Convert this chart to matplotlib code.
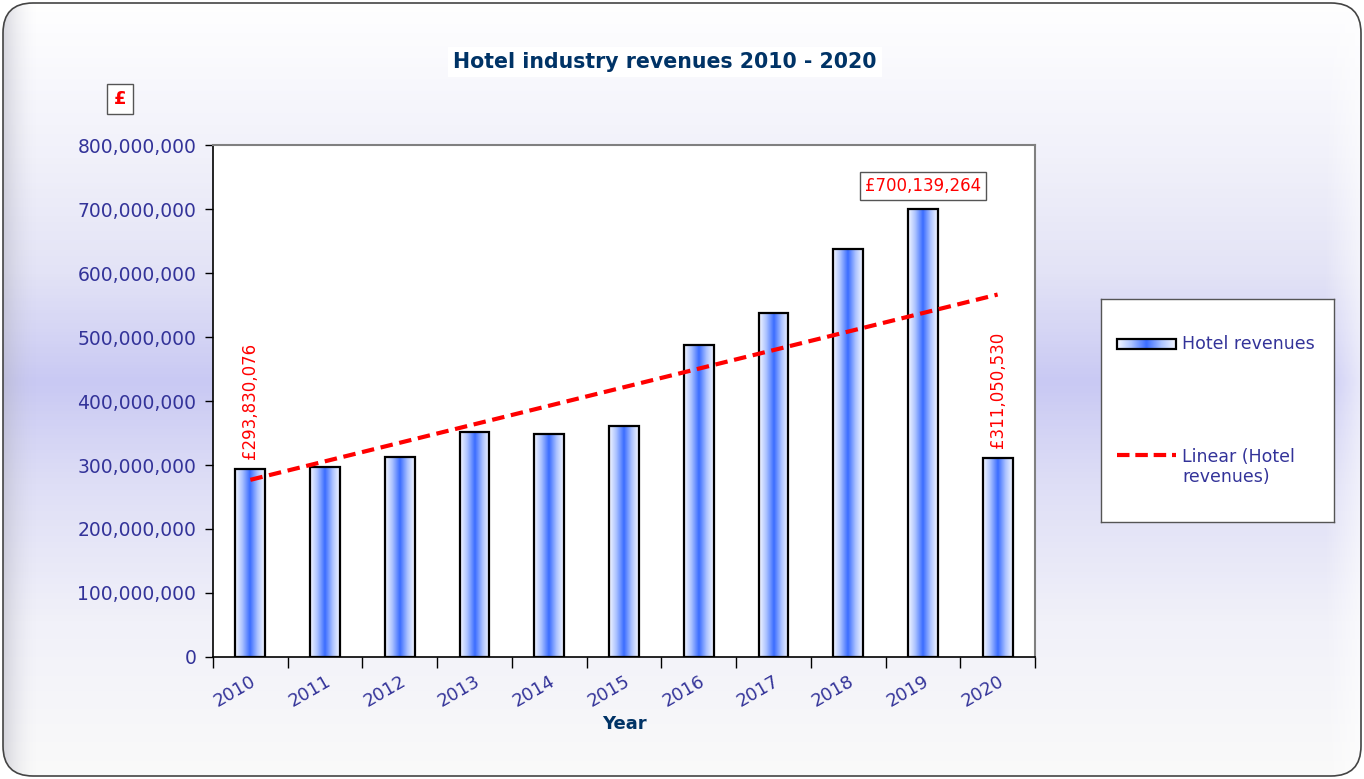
import numpy as np
import matplotlib
matplotlib.use("Agg")
import matplotlib.pyplot as plt
from matplotlib.colors import LinearSegmentedColormap
from matplotlib.patches import FancyBboxPatch, Rectangle
from matplotlib.ticker import FuncFormatter

# data
years = ["2010", "2011", "2012", "2013", "2014", "2015", "2016", "2017", "2018", "2019", "2020"]
revenues = [293830076, 297000000, 312500000, 351600000, 348000000, 361000000,
            487500000, 537500000, 637500000, 700139264, 311050530]

NAVY = "#003366"
TICKBLUE = "#333399"
RED = "#ff0000"

W, H = 1364, 779
fig = plt.figure(figsize=(W / 100, H / 100), dpi=100)
fig.patch.set_facecolor("white")

# background panel with rounded corners and lavender gradient
bg = fig.add_axes([0, 0, 1, 1])
bg.set_xlim(0, W)
bg.set_ylim(H, 0)
bg.axis("off")
stops = [(0.0, "#ffffff"), (0.2, "#f1f1fa"), (0.35, "#e3e3f6"), (0.49, "#c9c9f3"),
         (0.62, "#dedef6"), (0.8, "#f1f1f9"), (1.0, "#fafafa")]
bgcmap = LinearSegmentedColormap.from_list("bg", stops)
grad = np.linspace(0, 1, 256).reshape(-1, 1) * np.ones((1, 4))
img = bg.imshow(grad, cmap=bgcmap, extent=[0, W, H, 0], aspect="auto", zorder=0)
panel = FancyBboxPatch((3, 3), W - 6, H - 6, boxstyle="round,pad=0,rounding_size=30",
                       facecolor="none", edgecolor="#444444", lw=1.2, zorder=3)
bg.add_patch(panel)
img.set_clip_path(panel)
# soft grey shading along the left edge, white sheen on the right
shade = np.linspace(1, 0, 64).reshape(1, -1) ** 2
sh = bg.imshow(shade, cmap=LinearSegmentedColormap.from_list("sh", [(0.7, 0.7, 0.75, 0), (0.7, 0.7, 0.75, 1)]),
               extent=[3, 40, H, 0], aspect="auto", zorder=1, alpha=0.5)
sh.set_clip_path(panel)
sheen = np.linspace(0, 1, 64).reshape(1, -1)
sr = bg.imshow(sheen, cmap=LinearSegmentedColormap.from_list("sr", [(1, 1, 1, 0), (1, 1, 1, 1)]),
               extent=[W - 40, W - 3, H, 0], aspect="auto", zorder=1, alpha=0.6)
sr.set_clip_path(panel)

# main plot
ax = fig.add_axes([213 / W, 1 - 657 / H, (1035 - 213) / W, (657 - 145) / H])
ax.set_facecolor("white")
x = np.arange(len(years))
bars = ax.bar(x, revenues, width=0.4, facecolor="none", edgecolor="black", lw=1.6, zorder=3)

barcmap = LinearSegmentedColormap.from_list("bar", ["#f4f7ff", "#a8c0ff", "#3a6cff", "#a8c0ff", "#f4f7ff"])
bgrad = np.linspace(0, 1, 64).reshape(1, -1)
for b in bars:
    ax.imshow(bgrad, cmap=barcmap, extent=[b.get_x(), b.get_x() + b.get_width(), 0, b.get_height()],
              aspect="auto", zorder=2)

# linear trend
coef = np.polyfit(x, revenues, 1)
ax.plot(x, np.polyval(coef, x), color=RED, lw=3, dashes=(3, 1.6), zorder=4)

ax.set_xlim(-0.5, len(years) - 0.5)
ax.set_ylim(0, 800000000)
ax.set_yticks(np.arange(0, 800000001, 100000000))
ax.yaxis.set_major_formatter(FuncFormatter(lambda v, p: f"{int(v):,}"))
ax.tick_params(axis="y", direction="out", length=6, width=1, colors="black", labelcolor=TICKBLUE,
               labelsize=13.5, pad=6)

ax.set_xticks(np.arange(-0.5, len(years), 1))
ax.set_xticklabels([])
ax.set_xticks(x, minor=True)
ax.set_xticklabels(years, minor=True, rotation=30, ha="right", rotation_mode="anchor",
                   color=TICKBLUE, fontsize=13)
ax.tick_params(axis="x", which="major", direction="out", length=8, width=1, color="black")
ax.tick_params(axis="x", which="minor", length=0, pad=11)

for side in ["top", "right"]:
    ax.spines[side].set_color("#808080")
    ax.spines[side].set_linewidth(1.5)
for side in ["left", "bottom"]:
    ax.spines[side].set_color("black")
    ax.spines[side].set_linewidth(1.2)

ax.set_xlabel("Year", fontsize=13, fontweight="bold", color=NAVY, labelpad=3)

# data labels
ax.annotate(f"£{revenues[0]:,}", (x[0], revenues[0]), xytext=(0, 7), textcoords="offset points",
            rotation=90, ha="center", va="bottom", color=RED, fontsize=12)
ax.annotate(f"£{revenues[-1]:,}", (x[-1], revenues[-1]), xytext=(0, 7), textcoords="offset points",
            rotation=90, ha="center", va="bottom", color=RED, fontsize=12)
ax.annotate(f"£{revenues[9]:,}", (x[9], revenues[9]), xytext=(0, 10), textcoords="offset points",
            ha="center", va="bottom", color=RED, fontsize=12,
            bbox=dict(boxstyle="square,pad=0.3", facecolor="white", edgecolor="#555555", lw=1))

# title and currency tag
fig.text(665 / W, 1 - 62 / H, "Hotel industry revenues 2010 - 2020", ha="center", va="center",
         fontsize=14.8, fontweight="bold", color=NAVY,
         bbox=dict(boxstyle="square,pad=0.25", facecolor="white", edgecolor="none"))
fig.text(120 / W, 1 - 99 / H, "£", ha="center", va="center", fontsize=13, fontweight="bold", color=RED,
         bbox=dict(boxstyle="square,pad=0.35", facecolor="white", edgecolor="#555555", lw=1))

# legend box
lg = fig.add_axes([1101 / W, 1 - 522 / H, (1334 - 1101) / W, (522 - 299) / H])
lg.set_xlim(0, 233)
lg.set_ylim(223, 0)
lg.set_xticks([])
lg.set_yticks([])
for s in lg.spines.values():
    s.set_color("#555555")
    s.set_linewidth(1)
lg.imshow(bgrad, cmap=barcmap, extent=[16, 75, 50, 40], aspect="auto", zorder=2)
lg.add_patch(Rectangle((16, 40), 59, 10, facecolor="none", edgecolor="black", lw=1.6, zorder=3))
lg.text(81, 45, "Hotel revenues", ha="left", va="center", color=TICKBLUE, fontsize=12.5)
lg.plot([16, 75], [156, 156], color=RED, lw=3, dashes=(3, 1.4))
lg.text(81, 168, "Linear (Hotel\nrevenues)", ha="left", va="center", color=TICKBLUE, fontsize=12.5,
        linespacing=1.1)

fig.savefig("out.png", dpi=100)
